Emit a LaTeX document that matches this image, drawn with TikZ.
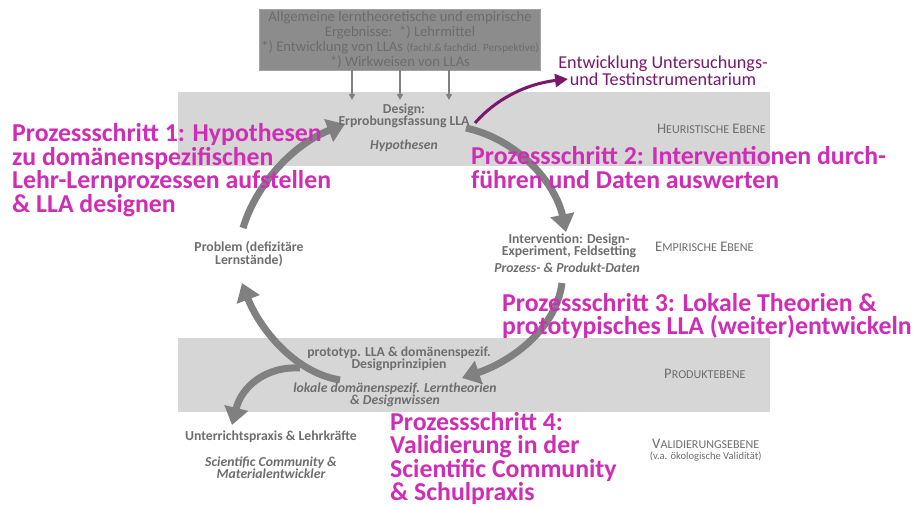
\documentclass[tikz,border=0pt]{standalone}
\usepackage{fontspec}
\setmainfont{Carlito}
\usetikzlibrary{arrows.meta}
\definecolor{bandgrau}{RGB}{214,214,214}
\definecolor{boxgrau}{RGB}{140,140,140}
\definecolor{boxtext}{RGB}{108,108,108}
\definecolor{textgrau}{RGB}{110,110,110}
\definecolor{pfeilgrau}{RGB}{128,128,128}
\definecolor{schritt}{RGB}{208,45,182}
\definecolor{lila}{RGB}{122,24,108}
% kleine Kapitaelchen von Hand
\newcommand{\kl}[1]{{\fontsize{10.3}{11}\selectfont #1}}

\begin{document}
\begin{tikzpicture}[
	x=0.03cm,
	y=-0.03cm,
	band/.style={fill=bandgrau,draw=none},
	lbl/.style={text=textgrau,font=\bfseries\fontsize{11.7}{10.6}\selectfont,align=center,inner sep=0pt},
	kursiv/.style={text=textgrau,font=\bfseries\itshape\fontsize{11.7}{10.6}\selectfont,align=center,inner sep=0pt},
	ebene/.style={text=textgrau,font=\fontsize{12.5}{13}\selectfont,inner sep=0pt},
	schrittlbl/.style={text=schritt,font=\bfseries\fontsize{22}{20.1}\selectfont,align=left,anchor=north west,inner sep=0pt},
	zyklus/.style={draw=pfeilgrau,line width=6pt,-{Triangle[length=15pt,width=20pt]}},
	zufluss/.style={draw=pfeilgrau,line width=1.3pt,-{Triangle[length=5pt,width=5pt]}}
	]
	\useasboundingbox[fill=white] (0,0) rectangle (920,507);
	% Ebenen
	\fill[band] (178,92) rectangle (770,166);
	\fill[band] (178,338) rectangle (770,412);
	% Ergebnisse oben
	\node[fill=boxgrau,draw=boxgrau!80!white,text=boxtext,minimum width=281*0.03cm,minimum height=61*0.03cm,
		align=center,inner sep=0pt,font=\fontsize{12.5}{12.8}\selectfont] (erg) at (400,39.5)
		{Allgemeine lerntheoretische und empirische\\Ergebnisse:\ \ *) Lehrmittel\\
		 *) Entwicklung von LLAs {\fontsize{9.5}{10}\selectfont (fachl.\&\,fachdid. Perspektive)}\\*) Wirkweisen von LLAs};
	\coordinate (z1) at (352,100);
	\coordinate (z2) at (400,100);
	\coordinate (z3) at (449,100);
	\draw[zufluss] (erg.south -| z1) -- (z1);
	\draw[zufluss] (erg.south -| z2) -- (z2);
	\draw[zufluss] (erg.south -| z3) -- (z3);
	% Zyklus
	\coordinate (p1a) at (243,228);
	\coordinate (p1b) at (345,124);
	\coordinate (p2a) at (466,128);
	\coordinate (p2b) at (566,232);
	\coordinate (p3a) at (562,283);
	\coordinate (p3b) at (462,378);
	\coordinate (p4a) at (340,380);
	\coordinate (p4b) at (242,283);
	\coordinate (p5a) at (300,368);
	\coordinate (p5b) at (232,425);
	\draw[zyklus] (p1a) .. controls (256,185) and (292,145) .. (p1b);
	\draw[zyklus] (p2a) .. controls (520,140) and (556,185) .. (p2b);
	\draw[zyklus] (p3a) .. controls (556,330) and (510,362) .. (p3b);
	\draw[zyklus] (p4a) .. controls (292,372) and (258,325) .. (p4b);
	\draw[zyklus] (p5a) .. controls (268,366) and (242,385) .. (p5b);
	% Instrumente
	\node[text=lila,font=\fontsize{15.5}{14.6}\selectfont,align=center,inner sep=0pt] (instr) at (663,71)
		{Entwicklung Untersuchungs-\\und Testinstrumentarium};
	\coordinate (i1) at (475,123);
	\coordinate (i2) at (568,79);
	\draw[lila,line width=2.6pt,-{Triangle[length=11pt,width=11pt]}] (i1) .. controls (495,100) and (525,84) .. (i2);
	% Inhalte
	\node[lbl] (design) at (404,116) {Design:\\Erprobungsfassung LLA};
	\node[kursiv] (hyp) at (404,146) {Hypothesen};
	\node[lbl] (interv) at (569,246) {Intervention: Design-\\Experiment, Feldsetting};
	\node[kursiv] (daten) at (567,268) {Prozess- \& Produkt-Daten};
	\node[lbl] (problem) at (249,254) {Problem (defizitäre\\Lernstände)};
	\node[lbl] (prototyp) at (399,359) {prototyp. LLA \& domänenspezif.\\Designprinzipien};
	\node[kursiv] (theorie) at (395,395) {lokale domänenspezif. Lerntheorien\\\& Designwissen};
	\node[lbl] (praxis) at (271,437) {Unterrichtspraxis \& Lehrkräfte};
	\node[kursiv] (community) at (271,468) {Scientific Community \&\\Materialentwickler};
	% Ebenen
	\node[ebene,anchor=east] (heur) at (766,129) {H\kl{EURISTISCHE} E\kl{BENE}};
	\node[ebene,anchor=west] (emp) at (655,247) {E\kl{MPIRISCHE} E\kl{BENE}};
	\node[ebene,anchor=west] (prod) at (664,374) {P\kl{RODUKTEBENE}};
	\node[ebene,anchor=west] (valid) at (652,444) {V\kl{ALIDIERUNGSEBENE}};
	\node[text=textgrau,font=\fontsize{9}{10}\selectfont,inner sep=0pt] (oeko) at (valid.south) [anchor=north,yshift=-2pt]
		{(v.a. ökologische Validität)};
	% Prozessschritte
	\node[schrittlbl] (ps1) at (12,123.5) {Prozessschritt 1: Hypothesen\\zu domänenspezifischen\\Lehr-Lernprozessen aufstellen\\\& LLA designen};
	\node[schrittlbl] (ps2) at (471,146.5) {Prozessschritt 2: Interventionen durch-\\führen und Daten auswerten};
	\node[schrittlbl] (ps3) at (502,293) {Prozessschritt 3: Lokale Theorien \&\\prototypisches LLA (weiter)entwickeln};
	\node[schrittlbl] (ps4) at (390,412) {Prozessschritt 4:\\Validierung in der\\Scientific Community\\\& Schulpraxis};
\end{tikzpicture}
\end{document}
